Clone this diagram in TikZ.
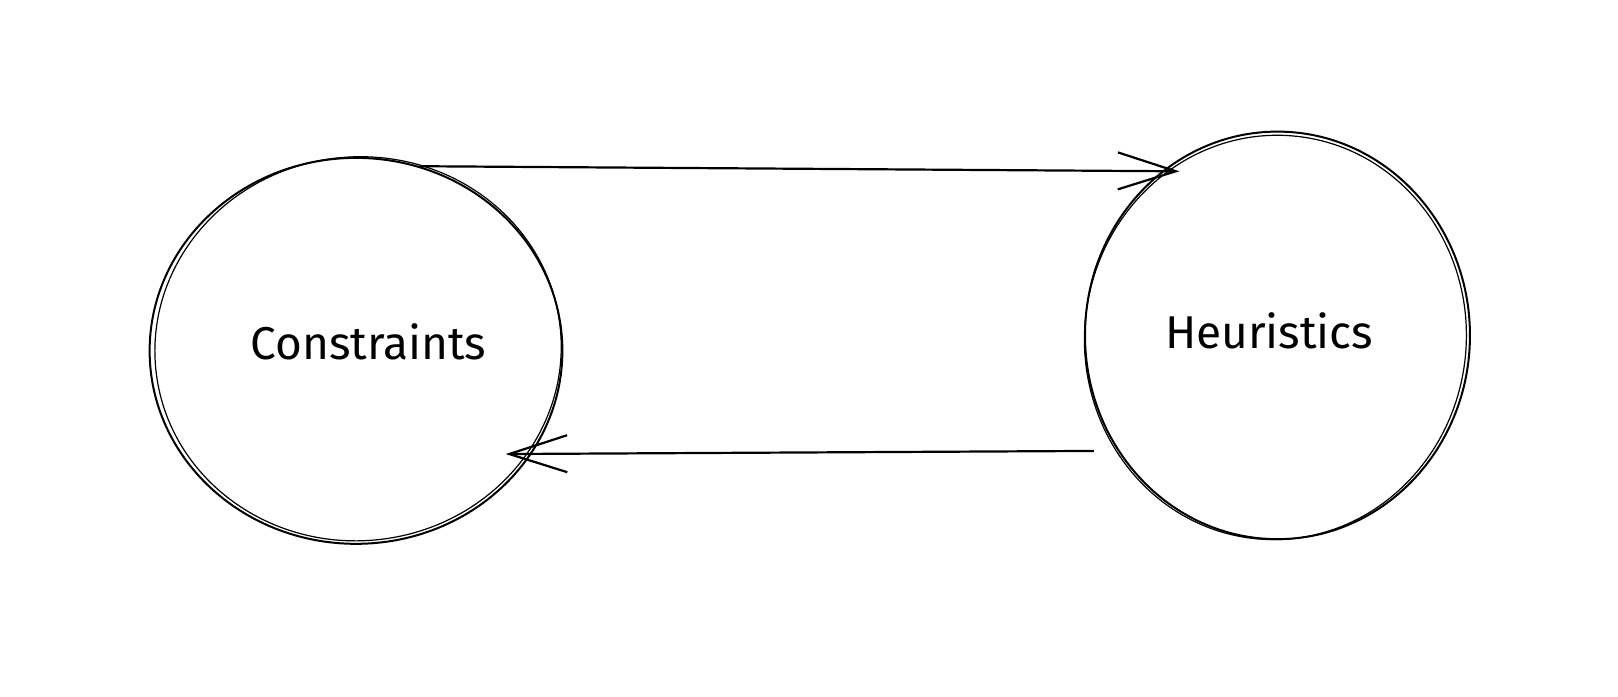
\documentclass[tikz,border=0pt]{standalone}
\usepackage{fontspec}
\setmainfont{Fira Sans}
\usetikzlibrary{shapes.geometric,arrows.meta}
\begin{document}
\begin{tikzpicture}[x=0.516pt,y=-0.516pt,
  blob/.style={ellipse,draw=black,line width=1pt,inner sep=0pt},
  word/.style={font=\fontsize{23}{27}\selectfont},
  sketch/.style={draw=black,line width=0.6pt},
  link/.style={draw=black,line width=1.1pt,-{Straight Barb[length=29pt,width=18.5pt,line width=1.1pt]}}]
\useasboundingbox[fill=white] (0,0) rectangle (1568,674.5);
\node[blob,minimum width=206.4pt,minimum height=193pt] (c) at (345,340) {};
\node[blob,minimum width=192.5pt,minimum height=203.8pt] (h) at (1238,325) {};
\node[word] (ct) at (357,331) {Constraints};
\node[word] (htx) at (1230,321) {Heuristics};
% second hand-drawn strokes
\draw[sketch,rotate around={6:(347,338)}] (347,338) ellipse [x radius=197, y radius=186];
\draw[sketch,rotate around={-5:(1236,327)}] (1236,327) ellipse [x radius=185, y radius=196];
\coordinate (tipH) at (1143,166);
\coordinate (startH) at (1060,437);
\coordinate (tipC) at (490,440);
\draw[link] (c.71) -- (tipH);
\draw[link] (startH) -- (tipC);
\end{tikzpicture}
\end{document}
